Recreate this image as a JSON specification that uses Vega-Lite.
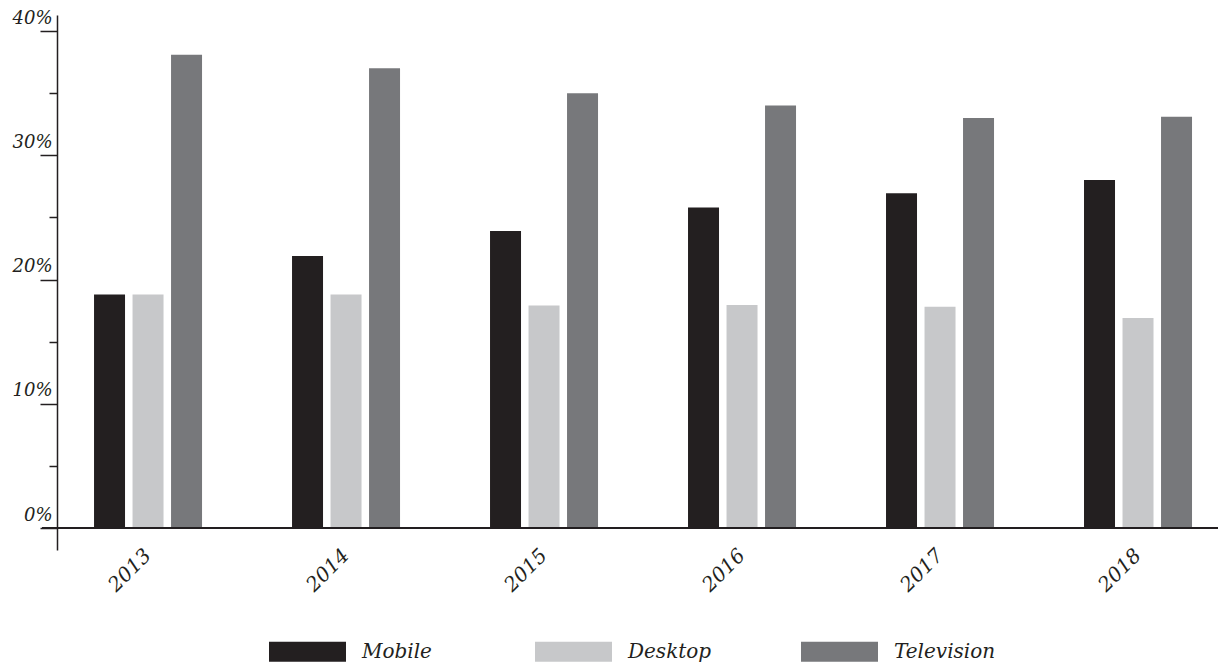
{
  "$schema": "https://vega.github.io/schema/vega-lite/v6.json",
  "width": 1176,
  "height": 535,
  "autosize": {"type": "none"},
  "padding": {"left": 42, "top": 15, "right": 0, "bottom": 120},
  "background": "white",
  "config": {
    "view": {"stroke": null},
    "font": "DejaVu Serif"
  },
  "data": {
    "values": [
      {"year": "2013", "device": "Mobile", "share": 18.8},
      {"year": "2013", "device": "Desktop", "share": 18.8},
      {"year": "2013", "device": "Television", "share": 38.1},
      {"year": "2014", "device": "Mobile", "share": 21.9},
      {"year": "2014", "device": "Desktop", "share": 18.8},
      {"year": "2014", "device": "Television", "share": 37.0},
      {"year": "2015", "device": "Mobile", "share": 23.9},
      {"year": "2015", "device": "Desktop", "share": 17.9},
      {"year": "2015", "device": "Television", "share": 35.0},
      {"year": "2016", "device": "Mobile", "share": 25.8},
      {"year": "2016", "device": "Desktop", "share": 17.95},
      {"year": "2016", "device": "Television", "share": 34.0},
      {"year": "2017", "device": "Mobile", "share": 26.95},
      {"year": "2017", "device": "Desktop", "share": 17.8},
      {"year": "2017", "device": "Television", "share": 33.0},
      {"year": "2018", "device": "Mobile", "share": 28.0},
      {"year": "2018", "device": "Desktop", "share": 16.9},
      {"year": "2018", "device": "Television", "share": 33.1}
    ]
  },
  "layer": [
    {
      "mark": {"type": "bar"},
      "encoding": {
        "x": {
          "field": "year",
          "type": "nominal",
          "scale": {"paddingInner": 0.4545, "paddingOuter": 0.197, "align": 0.667},
          "axis": {
            "title": null,
            "domain": false,
            "ticks": false,
            "labelAngle": -45,
            "labelAlign": "right",
            "labelBaseline": "middle",
            "labelPadding": 2,
            "labelFont": "DejaVu Serif",
            "labelFontStyle": "italic",
            "labelFontSize": 20,
            "labelFontWeight": 500,
            "labelColor": "#231f20"
          }
        },
        "xOffset": {
          "field": "device",
          "type": "nominal",
          "sort": ["Mobile", "Desktop", "Television"],
          "scale": {"paddingInner": 0.195, "paddingOuter": 0}
        },
        "y": {
          "field": "share",
          "type": "quantitative",
          "scale": {"domain": [-1.77, 41.29], "nice": false, "zero": false},
          "axis": {
            "title": null,
            "orient": "left",
            "offset": -15,
            "values": [0, 10, 20, 30, 40],
            "labelExpr": "datum.value + '%'",
            "grid": false,
            "domainColor": "#231f20",
            "domainWidth": 1.5,
            "tickColor": "#231f20",
            "tickWidth": 1.5,
            "tickSize": 17,
            "labelAlign": "right",
            "labelBaseline": "alphabetic",
            "labelOffset": -8,
            "labelPadding": -12,
            "labelFont": "DejaVu Serif",
            "labelFontStyle": "italic",
            "labelFontSize": 18,
            "labelColor": "#231f20"
          }
        },
        "color": {
          "field": "device",
          "type": "nominal",
          "scale": {
            "domain": ["Mobile", "Desktop", "Television"],
            "range": ["#231f20", "#c7c8ca", "#77787b"]
          },
          "legend": {
            "title": null,
            "orient": "none",
            "legendX": 227,
            "legendY": 598,
            "direction": "horizontal",
            "columns": 3,
            "gridAlign": "all",
            "columnPadding": 71,
            "padding": 0,
            "symbolType": "M-1,-0.26H1V0.26H-1Z",
            "symbolSize": 5929,
            "symbolStrokeWidth": 0,
            "symbolOpacity": 1,
            "labelOffset": 16,
            "labelFont": "DejaVu Serif",
            "labelFontStyle": "italic",
            "labelFontSize": 20,
            "labelColor": "#231f20",
            "labelLimit": 300
          }
        }
      }
    },
    {
      "mark": {"type": "rule", "color": "#231f20", "strokeWidth": 1.5},
      "encoding": {
        "y": {
          "datum": 0,
          "type": "quantitative",
          "axis": {
            "title": null,
            "orient": "left",
            "offset": -15,
            "values": [5, 15, 25, 35],
            "labels": false,
            "domain": false,
            "grid": false,
            "tickColor": "#231f20",
            "tickWidth": 1.5,
            "tickSize": 8
          }
        }
      }
    }
  ],
  "resolve": {"axis": {"y": "independent"}}
}
